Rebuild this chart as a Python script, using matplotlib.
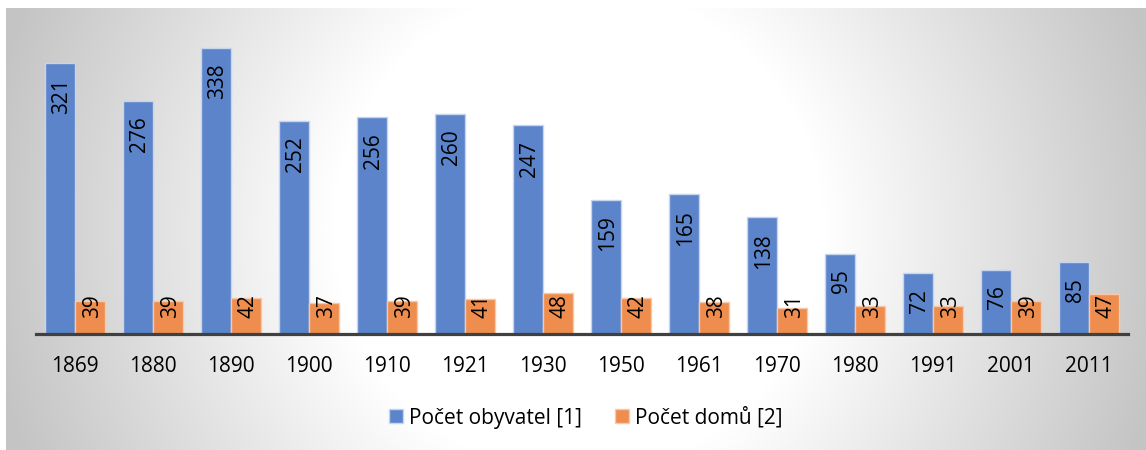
import numpy as np
import matplotlib
matplotlib.use("Agg")
import matplotlib.pyplot as plt
from matplotlib.patches import Patch

years = ["1869", "1880", "1890", "1900", "1910", "1921", "1930",
         "1950", "1961", "1970", "1980", "1991", "2001", "2011"]
obyvatel = [321, 276, 338, 252, 256, 260, 247, 159, 165, 138, 95, 72, 76, 85]
domu = [39, 39, 42, 37, 39, 41, 48, 42, 38, 31, 33, 33, 39, 47]
series_names = ["Počet obyvatel [1]", "Počet domů [2]"]

W, H = 1146, 450
FONT = "Open Sans"
FS = 15
BLUE = "#5B84CB"
ORANGE = "#EE8D4E"

fig = plt.figure(figsize=(W / 100, H / 100), dpi=100)

# background: white margins + radial gradient panel
yy, xx = np.mgrid[0:H, 0:W]
d = np.hypot(xx - 578, yy - 229)
t = np.clip((d - 245) / 355.0, 0, 1)
g = 255 - t * (255 - 196)
g[:8, :] = 255
g[:, :6] = 255
img = np.dstack([g, g, g]).astype(np.uint8)
bg = fig.add_axes([0, 0, 1, 1])
bg.imshow(img, aspect="auto", interpolation="bilinear")
bg.set_axis_off()
bg.set_zorder(-10)

left = 36 / W
right = 1128 / W
bottom = 1 - 334 / H
top = 1 - 38 / H
ax = fig.add_axes([left, bottom, right - left, top - bottom])
ax.patch.set_alpha(0)
ax.set_xlim(-0.5, len(years) - 0.5)
ax.set_ylim(0, 350)

x = np.arange(len(years))
w = 0.38
off = 0.195
ax.bar(x - off, obyvatel, width=w, color=BLUE, edgecolor="#C7D4EE", linewidth=1.0, zorder=2)
ax.bar(x + off, domu, width=w, color=ORANGE, edgecolor="#F7C9A8", linewidth=1.0, zorder=2)

for s in ["top", "right", "left"]:
    ax.spines[s].set_visible(False)
ax.spines["bottom"].set_color("#404040")
ax.spines["bottom"].set_linewidth(2.3)
ax.spines["bottom"].set_zorder(3)
ax.set_yticks([])
ax.set_xticks(x)
ax.set_xticklabels(years, fontsize=FS, family=FONT, color="#000000")
ax.tick_params(axis="x", length=0, pad=16)

fig.canvas.draw()

def px_height(v):
    return ax.transData.transform((0, v))[1] - ax.transData.transform((0, 0))[1]

def label(xpos, v):
    s = str(v)
    need = 15.5 + 16 + len(s) * 12
    if px_height(v) >= need:
        ax.annotate(s, xy=(xpos, v), xytext=(1.5, -11.2), textcoords="offset points",
                    rotation=90, ha="center", va="top", fontsize=FS, family=FONT,
                    color="#000000", zorder=4)
    else:
        ax.annotate(s, xy=(xpos, 0), xytext=(1.5, 11.5), textcoords="offset points",
                    rotation=90, ha="center", va="bottom", fontsize=FS, family=FONT,
                    color="#000000", zorder=4)

for i in range(len(years)):
    label(x[i] - off, obyvatel[i])
    label(x[i] + off, domu[i])

handles = [Patch(facecolor=BLUE, edgecolor="#C7D4EE"), Patch(facecolor=ORANGE, edgecolor="#F7C9A8")]
fig.legend(handles, series_names, loc="center", bbox_to_anchor=(586 / W, 1 - 418 / H),
           ncol=2, frameon=False, prop={"family": FONT, "size": FS},
           handlelength=0.65, handleheight=0.65, handletextpad=0.3, columnspacing=1.6)

fig.savefig("out.png", dpi=100)
